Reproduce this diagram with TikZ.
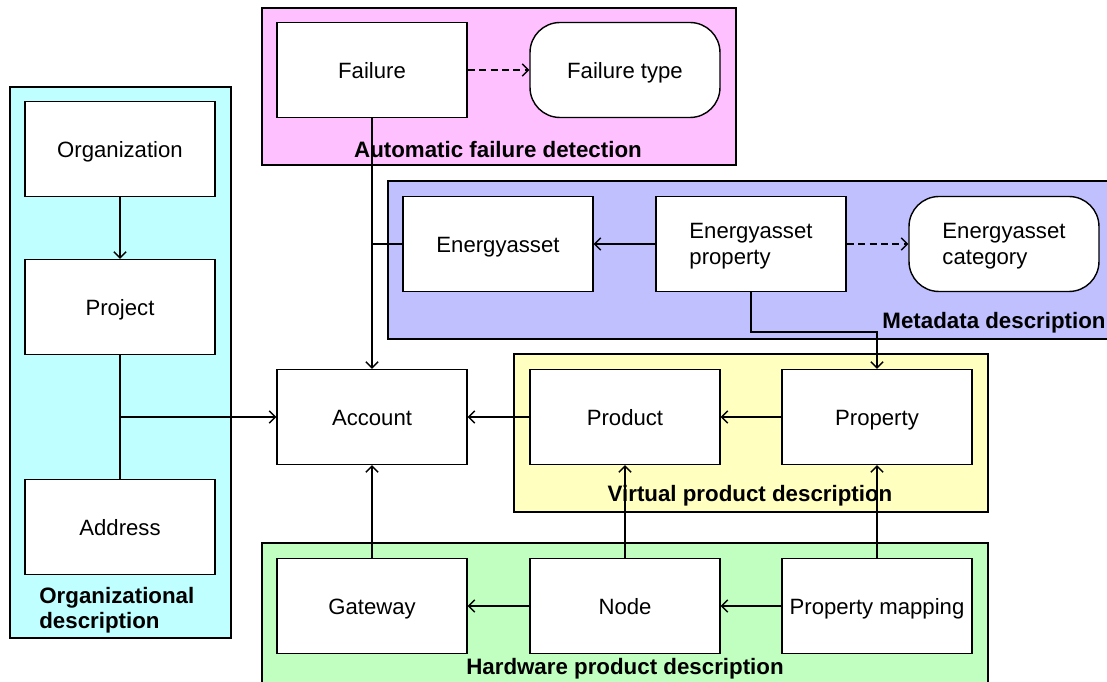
\documentclass[tikz,border=0pt]{standalone}
\usepackage{fontspec}
\setmainfont{Liberation Sans}
\usetikzlibrary{arrows.meta}
\definecolor{grpPink}{HTML}{FFC0FF}
\definecolor{grpBlue}{HTML}{C0C0FF}
\definecolor{grpCyan}{HTML}{C0FFFF}
\definecolor{grpYellow}{HTML}{FFFFC0}
\definecolor{grpGreen}{HTML}{C0FFC0}
\begin{document}
\begin{tikzpicture}[x=0.02cm,y=-0.02cm,
  every node/.style={font=\fontsize{12.6}{15}\selectfont},
  box/.style={draw, line width=0.8pt, fill=white, minimum width=3.8cm, minimum height=1.9cm, inner sep=2pt},
  entity/.style={box, text height=11pt, text depth=1.5pt},
  entity2/.style={box, align=left, text depth=0pt},
  kind/.style={entity, rounded corners=0.6cm},
  kind2/.style={entity2, rounded corners=0.6cm},
  group/.style={draw, line width=0.8pt},
  grouplabel/.style={font=\fontsize{12.7}{14.5}\selectfont\bfseries, inner sep=0pt},
  link/.style={line width=0.8pt},
  arr/.style={link, -{Straight Barb[length=3.5pt,width=7pt]}},
  dasharr/.style={arr, dash pattern=on 4pt off 2.5pt}]
\useasboundingbox (0,0) rectangle (1107,682);

% group backgrounds
\draw[group, fill=grpPink] (262,8) rectangle (736,165);
\draw[group, fill=grpBlue] (388,181) rectangle (1110,339);
\draw[group, fill=grpCyan] (10,87) rectangle (231,638);
\draw[group, fill=grpYellow] (514,354) rectangle (988,512);
\draw[group, fill=grpGreen] (262,543) rectangle (988,690);

% group titles
\node[grouplabel] (lblFail) at (498,150) {Automatic failure detection};
\node[grouplabel, anchor=east] (lblMeta) at (1106,323) {Metadata description};
\node[grouplabel, anchor=west, align=left] (lblOrg) at (39,610) {Organizational\\description};
\node[grouplabel] (lblVirt) at (750,496) {Virtual product description};
\node[grouplabel] (lblHw) at (625,669) {Hardware product description};

% entities
\node[entity] (failure) at (372,70) {Failure};
\node[kind] (failtype) at (625,70) {Failure type};
\node[entity] (easset) at (498,244) {Energyasset};
\node[entity2] (eaprop) at (751,244) {Energyasset\\property};
\node[kind2] (eacat) at (1004,244) {Energyasset\\category};
\node[entity] (org) at (120,149) {Organization};
\node[entity] (project) at (120,307) {Project};
\node[entity] (address) at (120,527) {Address};
\node[entity] (account) at (372,417) {Account};
\node[entity] (product) at (625,417) {Product};
\node[entity] (property) at (877,417) {Property};
\node[entity] (gateway) at (372,606) {Gateway};
\node[entity] (hwnode) at (625,606) {Node};
\node[entity] (pmap) at (877,606) {Property mapping};

% connectors
\draw[dasharr] (failure) -- (failtype);
\draw[arr] (failure.south) -- (account.north);
\draw[link] (easset.west) -- (easset.west -| failure.south);
\draw[arr] (eaprop) -- (easset);
\draw[dasharr] (eaprop) -- (eacat);
\draw[arr] (eaprop.south) -- ([yshift=-0.8cm]eaprop.south) -| (property.north);
\draw[arr] (org) -- (project);
\draw[link] (project.south) -- (address.north);
\draw[arr] (project.south |- account.west) -- (account.west);
\draw[arr] (product) -- (account);
\draw[arr] (property) -- (product);
\draw[arr] (gateway) -- (account);
\draw[arr] (hwnode) -- (gateway);
\draw[arr] (hwnode) -- (product);
\draw[arr] (pmap) -- (hwnode);
\draw[arr] (pmap) -- (property);
\end{tikzpicture}
\end{document}
